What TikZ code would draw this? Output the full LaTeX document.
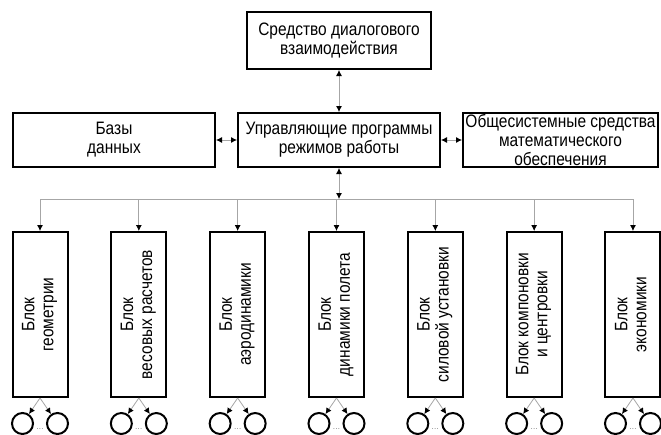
\documentclass[tikz,border=0pt]{standalone}
\usepackage{fontspec}
\setmainfont[FakeStretch=0.86]{Liberation Sans}
\usetikzlibrary{arrows.meta}
\begin{document}
\begin{tikzpicture}[x=1pt,y=-1pt,
  box/.style={draw=black,line width=2pt,fill=white,align=center,inner sep=0pt,
    font=\fontsize{18}{19}\selectfont},
  blk/.style={box,minimum width=55pt,minimum height=165pt},
  ring/.style={draw=black,line width=2pt,circle,minimum size=21pt,inner sep=0pt},
  conn/.style={draw=gray!70,line width=0.8pt},
  tip/.tip={Latex[length=6pt,width=6pt,black]},
  darr/.style={conn,tip-tip},
  sarr/.style={conn,-tip}]
\useasboundingbox (0,0) rectangle (661,434);

\node[box,minimum width=184pt,minimum height=57pt] (dlg) at (339,40.5)
  {Средство диалогового\\взаимодействия};
\node[box,minimum width=202pt,minimum height=54pt] (ctrl) at (339,140)
  {Управляющие программы\\режимов работы};
\node[box,minimum width=202pt,minimum height=54pt] (db) at (114,140)
  {Базы\\данных};
\node[box,minimum width=195pt,minimum height=54pt] (math) at (560.5,140)
  {Общесистемные средства\\математического\\обеспечения};

\draw[darr] (dlg.south) -- (ctrl.north);
\draw[darr] (db.east) -- (ctrl.west);
\draw[darr] (ctrl.east) -- (math.west);

\coordinate (bus) at (339,199);
\draw[darr] (ctrl.south) -- (bus);

\foreach \i/\t [evaluate=\i as \x using {40+98.83*(\i-1)}] in
  {1/{Блок\\геометрии},
   2/{Блок\\весовых расчетов},
   3/{Блок\\аэродинамики},
   4/{Блок\\динамики полета},
   5/{Блок\\силовой установки},
   6/{Блок компоновки\\и центровки},
   7/{Блок\\экономики}}{
  \coordinate (b\i) at (\x,199);
  \node[blk] (k\i) at (\x,314.5) {\rotatebox{90}{\begin{tabular}{@{}c@{}}\t\end{tabular}}};
  \draw[sarr] (b\i) -- (k\i.north);
  \node[ring] (l\i) at (\x-17.5,423.5) {};
  \node[ring] (r\i) at (\x+17.5,423.5) {};
  \draw[sarr] (k\i.south) -- (l\i);
  \draw[sarr] (k\i.south) -- (r\i);
  \node[font=\fontsize{9}{9}\selectfont,text=gray,inner sep=0pt] (d\i) at (\x,429) {\ldots};
}
\draw[conn] (b1) -- (b7);
\end{tikzpicture}
\end{document}
